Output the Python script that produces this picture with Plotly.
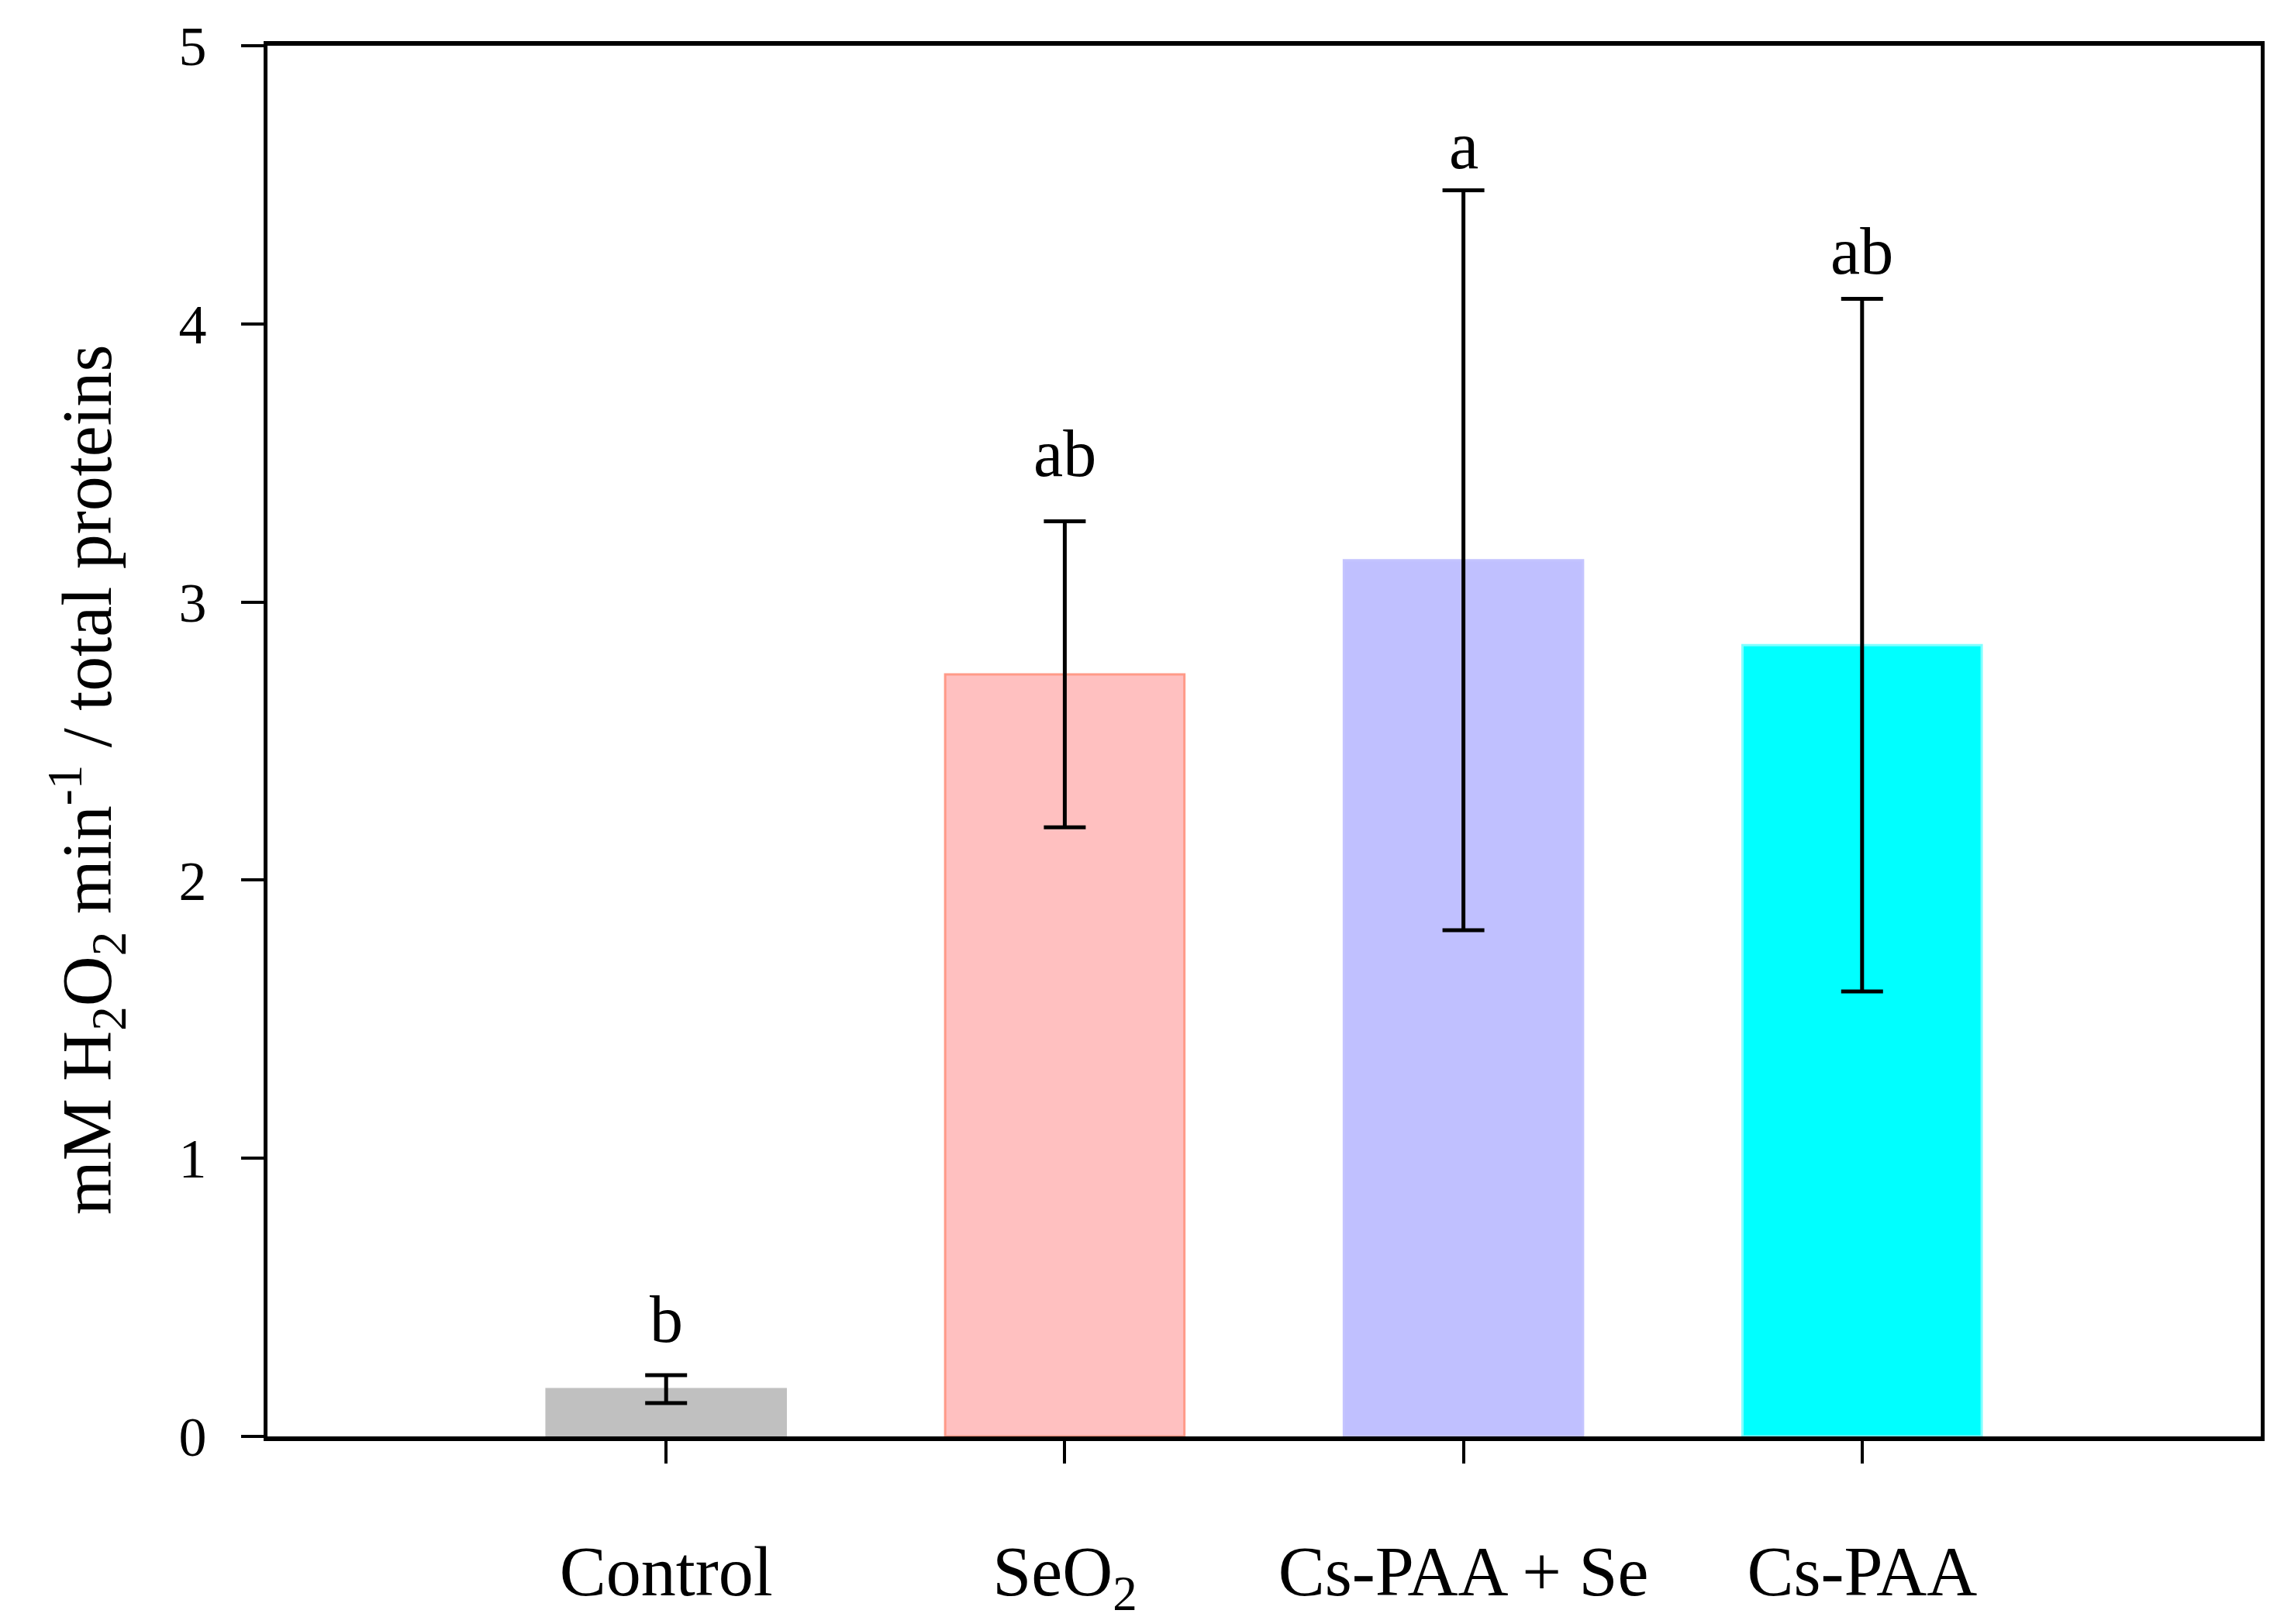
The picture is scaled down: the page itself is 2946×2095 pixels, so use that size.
import plotly.graph_objects as go

# data
groups = ["Control", "SeO<sub>2</sub>", "Cs-PAA + Se", "Cs-PAA"]
means = [0.17, 2.74, 3.15, 2.845]
errs = [0.05, 0.55, 1.33, 1.245]
letters = ["b", "ab", "a", "ab"]
letter_y = [0.337, 3.45, 4.557, 4.177]  # baseline of the letters
fill_colors = ["#c0c0c0", "#ffc0c0", "#c0c0ff", "#00ffff"]
edge_colors = ["#c0c0c0", "#ff9a88", "#c4c4ff", "#80ffff"]

serif = "Liberation Serif, Times New Roman, serif"

fig = go.Figure()
fig.add_trace(go.Bar(
    x=groups, y=means, width=0.6,
    marker=dict(color=fill_colors, line=dict(color=edge_colors, width=3)),
    error_y=dict(type="data", array=errs, visible=True, color="black", thickness=5, width=27),
    showlegend=False,
))

for g, t, yy in zip(groups, letters, letter_y):
    fig.add_annotation(x=g, y=yy, text=t, showarrow=False, yanchor="bottom", yshift=-20,
                       font=dict(family=serif, size=86, color="black"))

# y axis title, set as annotation so it can sit a little below the middle
fig.add_annotation(xref="paper", yref="paper", x=-0.0906, y=0.472, textangle=-90,
                   text="mM H<sub>2</sub>O<sub>2</sub> min<sup>-1</sup> / total proteins",
                   showarrow=False, xanchor="center", yanchor="middle",
                   font=dict(family=serif, size=90, color="black"))

fig.update_layout(
    width=2946, height=2095,
    margin=dict(l=337, r=38, t=51, b=192),
    paper_bgcolor="white", plot_bgcolor="white",
    font=dict(family=serif, color="black"),
)
fig.update_xaxes(
    range=[-1, 4], showline=True, linecolor="black", linewidth=6, mirror=True,
    ticks="outside", ticklen=29, tickwidth=4, tickcolor="black",
    tickfont=dict(family=serif, size=90), ticklabelstandoff=62, showgrid=False,
)
fig.update_yaxes(
    range=[0, 5], dtick=1, showline=True, linecolor="black", linewidth=5, mirror=True,
    ticks="outside", ticklen=29, tickwidth=4, tickcolor="black",
    tickfont=dict(family=serif, size=72), ticklabelstandoff=30, showgrid=False, zeroline=False,
)

fig.write_html("out.html")
